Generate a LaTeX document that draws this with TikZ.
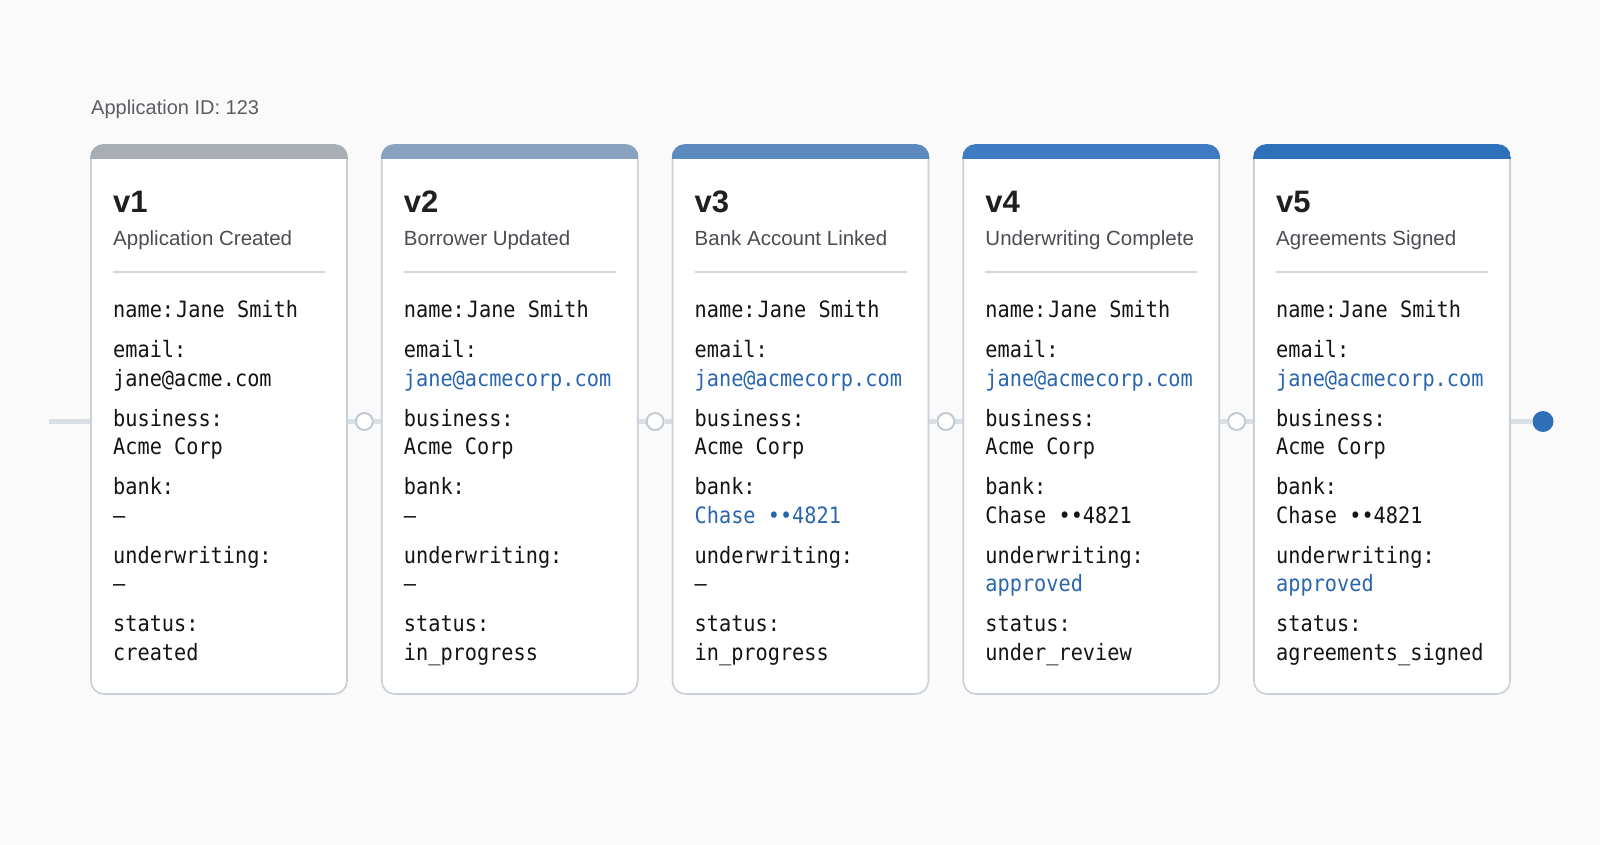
\documentclass[tikz,border=0pt]{standalone}
\usepackage{fontspec}
\usetikzlibrary{positioning,calc,backgrounds}
\newfontfamily\headfont{Liberation Sans}
\newfontfamily\codefont[FakeStretch=0.9]{DejaVu Sans Mono}
\definecolor{pagebg}{HTML}{FAFAFA}
\definecolor{cardline}{HTML}{C9D0D9}
\definecolor{trackgray}{HTML}{DADFE6}
\definecolor{dotline}{HTML}{C2CAD4}
\definecolor{linkblue}{HTML}{2A66AD}
\definecolor{subgray}{HTML}{4A4D52}
\definecolor{idgray}{HTML}{5A5D62}
\definecolor{barA}{HTML}{A9AEB5}
\definecolor{barB}{HTML}{88A2C0}
\definecolor{barC}{HTML}{5C8ABF}
\definecolor{barD}{HTML}{3E7BC3}
\definecolor{barE}{HTML}{2E71BB}
\definecolor{dotblue}{HTML}{2F6FB7}
\begin{document}
\begin{tikzpicture}[x=1pt,y=-1pt]
            \tikzset{
                card node/.style={draw=cardline,line width=1.6pt,fill=white,rounded corners=13pt,minimum width=256pt,minimum height=549pt,inner sep=0pt,outer sep=0pt},
                dot node/.style={circle,draw=dotline,line width=2pt,fill=white,minimum size=17pt,inner sep=0pt},
                end node/.style={circle,fill=dotblue,minimum size=21pt,inner sep=0pt},
                version text/.style={anchor=base west,inner sep=0pt,font=\headfont\bfseries\fontsize{31}{36}\selectfont,text=black!88},
                event text/.style={anchor=base west,inner sep=0pt,font=\headfont\fontsize{20.5}{25}\selectfont,text=subgray},
                field text/.style={anchor=base west,inner sep=0pt,align=left,font=\codefont\fontsize{22.5}{28.5}\selectfont,text=black!92},
                sep line/.style={draw=cardline!85,line width=1.3pt},
                time line/.style={draw=trackgray,line width=5pt}
            }
            \useasboundingbox (0,0) rectangle (1600,845);
            \node[anchor=base west,inner sep=0pt,font=\headfont\fontsize{20}{24}\selectfont,text=idgray] (appid) at (91,115) {Application ID: 123};
            % the five versions
            \node[card node] (card1) at (219,419.5) {};
            \node[card node, right=34.75pt of card1] (card2) {};
            \node[card node, right=34.75pt of card2] (card3) {};
            \node[card node, right=34.75pt of card3] (card4) {};
            \node[card node, right=34.75pt of card4] (card5) {};
            \foreach \n/\c in {1/barA,2/barB,3/barC,4/barD,5/barE}{
                \begin{scope}
                    \clip[rounded corners=13pt] ($(card\n.north west)+(-0.8,-0.8)$) rectangle ($(card\n.south east)+(0.8,0.8)$);
                    \fill[\c] ($(card\n.north west)+(-1,-1)$) rectangle ($(card\n.north east)+(1,14)$);
                \end{scope}
                \draw[sep line] ($(card\n.north west)+(22,127)$) -- ($(card\n.north east)+(-22,127)$);
            }
            % card 1 (field block sits on the baseline of its last line)
            \node[version text] (ver1) at ($(card1.north west)+(22,67.5)$) {v1};
            \node[event text] (evt1) at ($(card1.north west)+(22,100)$) {Application Created};
            \node[field text] (fld1) at ($(card1.north west)+(22,515)$) {name:\kern2pt Jane Smith\\[11.5pt]email:\\jane@acme.com\\[11.5pt]business:\\Acme Corp\\[11.5pt]bank:\\—\\[11.5pt]underwriting:\\—\\[11.5pt]status:\\created};
            % card 2
            \node[version text] (ver2) at ($(card2.north west)+(22,67.5)$) {v2};
            \node[event text] (evt2) at ($(card2.north west)+(22,100)$) {Borrower Updated};
            \node[field text] (fld2) at ($(card2.north west)+(22,515)$) {name:\kern2pt Jane Smith\\[11.5pt]email:\\\textcolor{linkblue}{jane@acmecorp.com}\\[11.5pt]business:\\Acme Corp\\[11.5pt]bank:\\—\\[11.5pt]underwriting:\\—\\[11.5pt]status:\\in\_progress};
            % card 3
            \node[version text] (ver3) at ($(card3.north west)+(22,67.5)$) {v3};
            \node[event text] (evt3) at ($(card3.north west)+(22,100)$) {Bank Account Linked};
            \node[field text] (fld3) at ($(card3.north west)+(22,515)$) {name:\kern2pt Jane Smith\\[11.5pt]email:\\\textcolor{linkblue}{jane@acmecorp.com}\\[11.5pt]business:\\Acme Corp\\[11.5pt]bank:\\\textcolor{linkblue}{Chase ••4821}\\[11.5pt]underwriting:\\—\\[11.5pt]status:\\in\_progress};
            % card 4
            \node[version text] (ver4) at ($(card4.north west)+(22,67.5)$) {v4};
            \node[event text] (evt4) at ($(card4.north west)+(22,100)$) {Underwriting Complete};
            \node[field text] (fld4) at ($(card4.north west)+(22,515)$) {name:\kern2pt Jane Smith\\[11.5pt]email:\\\textcolor{linkblue}{jane@acmecorp.com}\\[11.5pt]business:\\Acme Corp\\[11.5pt]bank:\\Chase ••4821\\[11.5pt]underwriting:\\\textcolor{linkblue}{approved}\\[11.5pt]status:\\under\_review};
            % card 5
            \node[version text] (ver5) at ($(card5.north west)+(22,67.5)$) {v5};
            \node[event text] (evt5) at ($(card5.north west)+(22,100)$) {Agreements Signed};
            \node[field text] (fld5) at ($(card5.north west)+(22,515)$) {name:\kern2pt Jane Smith\\[11.5pt]email:\\\textcolor{linkblue}{jane@acmecorp.com}\\[11.5pt]business:\\Acme Corp\\[11.5pt]bank:\\Chase ••4821\\[11.5pt]underwriting:\\\textcolor{linkblue}{approved}\\[11.5pt]status:\\agreements\_signed};
            % timeline
            \coordinate (tstart) at (49,421.5);
            \node[dot node] (dot1) at ($(card1.east)!0.5!(card2.west)+(0,2)$) {};
            \node[dot node] (dot2) at ($(card2.east)!0.5!(card3.west)+(0,2)$) {};
            \node[dot node] (dot3) at ($(card3.east)!0.5!(card4.west)+(0,2)$) {};
            \node[dot node] (dot4) at ($(card4.east)!0.5!(card5.west)+(0,2)$) {};
            \node[end node] (enddot) at (1543,421.5) {};
            \begin{scope}[on background layer]
                \fill[pagebg] (0,0) rectangle (1600,845);
                \draw[time line] (tstart) -- (dot1) -- (dot2) -- (dot3) -- (dot4) -- (enddot);
            \end{scope}
\end{tikzpicture}
\end{document}
